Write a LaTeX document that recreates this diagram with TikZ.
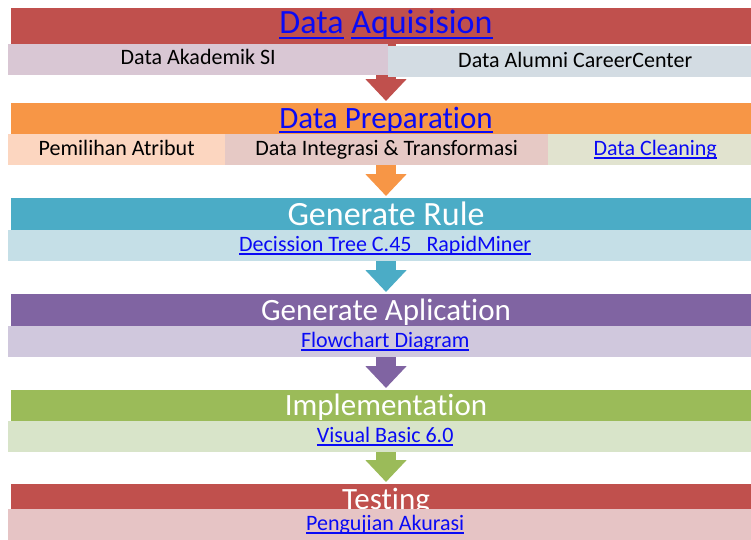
\documentclass[tikz,border=0pt]{standalone}
\usepackage{fontspec}
\setmainfont{Carlito}[Ligatures=NoCommon]
\usetikzlibrary{arrows.meta,positioning}
\definecolor{hdrred}{RGB}{192,80,77}
\definecolor{hdrorange}{RGB}{247,150,70}
\definecolor{hdrteal}{RGB}{75,172,198}
\definecolor{hdrpurple}{RGB}{128,100,162}
\definecolor{hdrgreen}{RGB}{155,187,89}
\definecolor{linkblue}{RGB}{10,10,245}
\definecolor{subsi}{RGB}{217,199,212}
\definecolor{subcc}{RGB}{211,220,227}
\definecolor{subattr}{RGB}{252,214,192}
\definecolor{subint}{RGB}{230,201,197}
\definecolor{subclean}{RGB}{225,227,207}
\definecolor{subteal}{RGB}{197,223,231}
\definecolor{subpurple}{RGB}{208,200,221}
\definecolor{subgreen}{RGB}{216,228,201}
\definecolor{subred}{RGB}{230,196,197}
% underlined link text
\newcommand\lnk[1]{{\color{linkblue}\setbox0\hbox{#1}\rlap{\rule[-0.15em]{\wd0}{0.06em}}\box0}}
\newcommand\barfont[1]{\fontsize{#1}{#1}\selectfont}
\tikzset{
  hdr/.style={
    rectangle, anchor=north, inner sep=0pt,
    minimum width=750pt, text=white,
    font=\barfont{34}
  },
  subbox/.style={
    rectangle, anchor=north west, inner sep=0pt,
    text height=21pt, text depth=10pt, text=black,
    font=\barfont{22}
  },
  flow/.style={line width=20pt, -{Triangle[width=40pt,length=22pt]}, shorten >=2pt},
}

\begin{document}
\begin{tikzpicture}[x=1pt,y=-1pt]
\useasboundingbox (0,0) rectangle (751,539);
% --- Stage bars ---
\node[hdr, fill=hdrred, text height=25.5pt, text depth=10pt] (acq) at (386,8) {\lnk{Data} \lnk{Aquisision}};
\node[hdr, fill=hdrorange, font=\barfont{31}, text height=25pt, text depth=6pt] (prep) at (386,103) {\lnk{Data Preparation}};
\node[hdr, fill=hdrteal, text height=27pt, text depth=5pt] (rule) at (386,198) {Generate Rule};
\node[hdr, fill=hdrpurple, font=\barfont{31}, text height=26pt, text depth=6pt] (app) at (386,294) {Generate Aplication};
\node[hdr, fill=hdrgreen, font=\barfont{31}, text height=25pt, text depth=6pt] (impl) at (386,390) {Implementation};
\node[hdr, fill=hdrred, font=\barfont{31}, text height=25pt, text depth=4pt] (test) at (386,484) {Testing};
% --- Arrows ---
\draw[flow, hdrred] (acq) -- (prep);
\draw[flow, hdrorange] (prep) -- (rule);
\draw[flow, hdrteal] (rule) -- (app);
\draw[flow, hdrpurple] (app) -- (impl);
\draw[flow, hdrgreen] (impl) -- (test);
% --- Detail rows ---
\node[subbox, fill=subsi, minimum width=380pt] (acqsi) at (8,43.5) {Data Akademik SI};
\node[subbox, fill=subcc, minimum width=374pt] (acqcc) at (388,46) {Data Alumni CareerCenter};
\node[subbox, fill=subattr, minimum width=217pt] (prepattr) at (8,134) {Pemilihan Atribut};
\node[subbox, fill=subint, minimum width=323pt] (prepint) at (225,134) {Data Integrasi \& Transformasi};
\node[subbox, fill=subclean, minimum width=214pt] (prepclean) at (548,134) {\lnk{Data Cleaning}};
\node[subbox, fill=subteal, minimum width=754pt] (rulesub) at (8,230) {\lnk{Decission Tree C.45\ \ \ RapidMiner}};
\node[subbox, fill=subpurple, minimum width=754pt] (appsub) at (8,326) {\lnk{Flowchart Diagram}};
\node[subbox, fill=subgreen, minimum width=754pt] (implsub) at (8,421) {\lnk{Visual Basic 6.0}};
\node[subbox, fill=subred, minimum width=754pt] (testsub) at (8,509) {\lnk{Pengujian Akurasi}};
\end{tikzpicture}
\end{document}
